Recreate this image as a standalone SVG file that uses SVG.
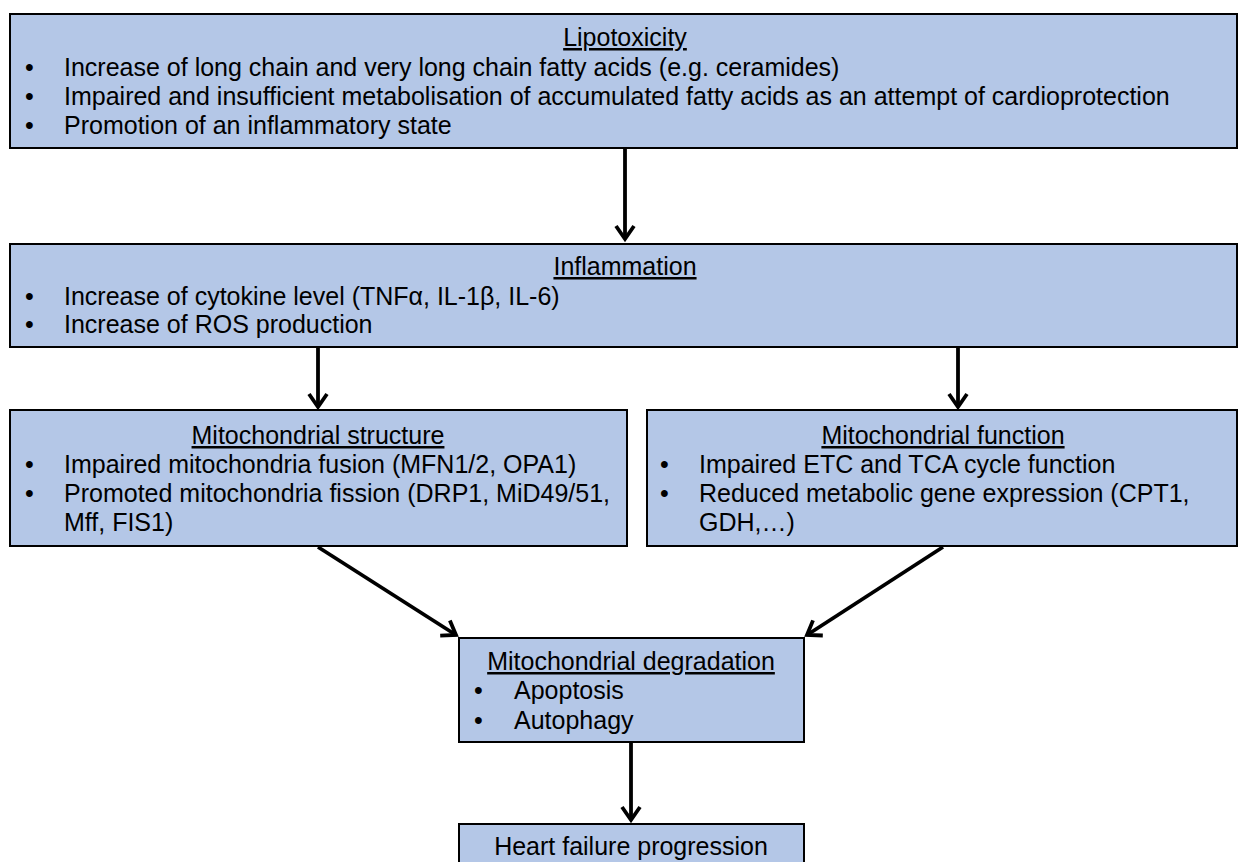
<svg xmlns="http://www.w3.org/2000/svg" width="1238" height="862" viewBox="0 0 1238 862">
<style>
.box{fill:#b4c7e7;stroke:#000;stroke-width:2}
text{font-family:"Liberation Sans",Arial,sans-serif;font-size:25px;fill:#000}
.t{text-anchor:middle;text-decoration:underline}
.c{text-anchor:middle}
.con{stroke:#000;stroke-width:3.8;fill:none;marker-end:url(#arr)}
</style>
<defs>
<marker id="arr" markerWidth="10" markerHeight="10" refX="8" refY="5" orient="auto" markerUnits="userSpaceOnUse" viewBox="0 0 10 10" overflow="visible">
<path d="M-5,-4 L8,5 L-5,14" fill="none" stroke="#000" stroke-width="3.8"/>
</marker>
</defs>
<g id="connectors">
<line class="con" x1="625" y1="149" x2="625" y2="239"/>
<line class="con" x1="318" y1="348" x2="318" y2="407"/>
<line class="con" x1="958" y1="348" x2="958" y2="407"/>
<line class="con" x1="318" y1="547" x2="456" y2="635"/>
<line class="con" x1="943" y1="547" x2="807" y2="635"/>
<line class="con" x1="631" y1="743" x2="631" y2="820"/>
</g>
<g id="lipotoxicity">
<rect class="box" x="10" y="14" width="1227" height="134"/>
<text class="t" x="625" y="46">Lipotoxicity</text>
<text x="25" y="76">•</text><text x="64" y="76">Increase of long chain and very long chain fatty acids (e.g. ceramides)</text>
<text x="25" y="105">•</text><text x="64" y="105">Impaired and insufficient metabolisation of accumulated fatty acids as an attempt of cardioprotection</text>
<text x="25" y="134">•</text><text x="64" y="134">Promotion of an inflammatory state</text>
</g>
<g id="inflammation">
<rect class="box" x="10" y="244" width="1227" height="103"/>
<text class="t" x="625" y="275">Inflammation</text>
<text x="25" y="305">•</text><text x="64" y="305">Increase of cytokine level (TNFα, IL-1β, IL-6)</text>
<text x="25" y="333">•</text><text x="64" y="333">Increase of ROS production</text>
</g>
<g id="mito-structure">
<rect class="box" x="10" y="410" width="617" height="136"/>
<text class="t" x="318" y="444">Mitochondrial structure</text>
<text x="25" y="473">•</text><text x="64" y="473">Impaired mitochondria fusion (MFN1/2, OPA1)</text>
<text x="25" y="502">•</text><text x="64" y="502">Promoted mitochondria fission (DRP1, MiD49/51,</text>
<text x="64" y="531">Mff, FIS1)</text>
</g>
<g id="mito-function">
<rect class="box" x="647" y="410" width="590" height="136"/>
<text class="t" x="943" y="444">Mitochondrial function</text>
<text x="660" y="473">•</text><text x="699" y="473">Impaired ETC and TCA cycle function</text>
<text x="660" y="502">•</text><text x="699" y="502">Reduced metabolic gene expression (CPT1,</text>
<text x="699" y="531">GDH,…)</text>
</g>
<g id="mito-degradation">
<rect class="box" x="459" y="638" width="345" height="104"/>
<text class="t" x="631" y="670">Mitochondrial degradation</text>
<text x="474" y="699">•</text><text x="514" y="699">Apoptosis</text>
<text x="474" y="729">•</text><text x="514" y="729">Autophagy</text>
</g>
<g id="heart-failure">
<rect class="box" x="459" y="824" width="345" height="50"/>
<text class="c" x="631" y="855">Heart failure progression</text>
</g>
</svg>
